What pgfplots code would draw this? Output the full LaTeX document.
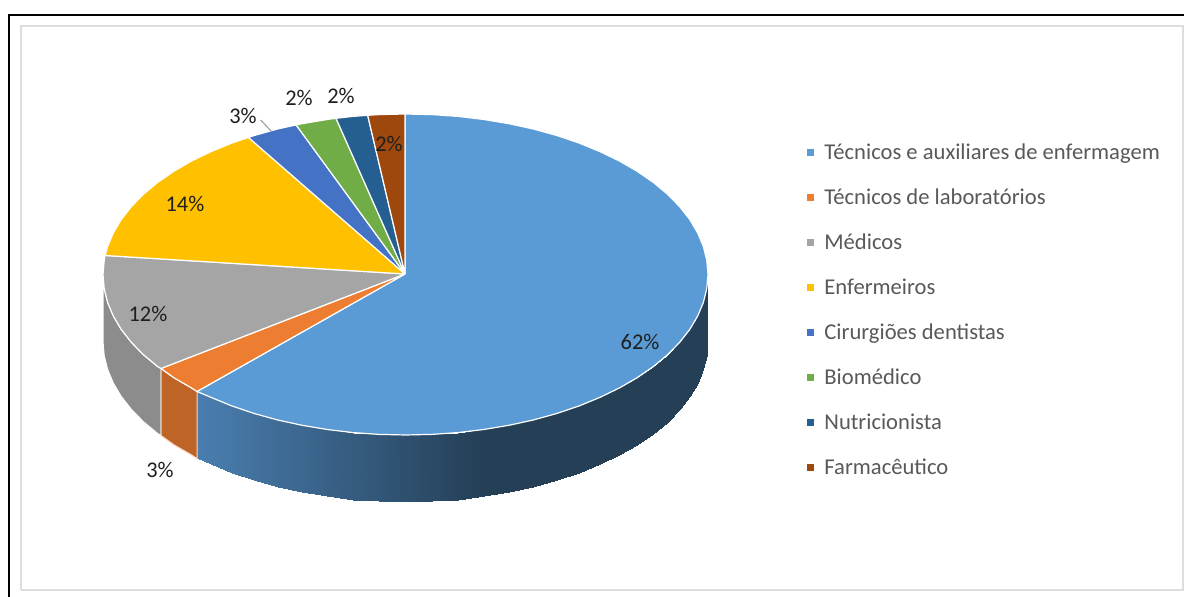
\documentclass[border=0pt]{standalone}
\usepackage{pgfplots}
\usepackage{fontspec}
\setmainfont{Carlito}
\pgfplotsset{compat=1.18}
\definecolor{cBlue}{HTML}{5B9BD5}
\definecolor{cOrange}{HTML}{ED7D31}
\definecolor{cGray}{HTML}{A5A5A5}
\definecolor{cYellow}{HTML}{FFC000}
\definecolor{cRoyal}{HTML}{4472C4}
\definecolor{cGreen}{HTML}{70AD47}
\definecolor{cNavy}{HTML}{255E91}
\definecolor{cBrown}{HTML}{9E480E}
\definecolor{cLegend}{HTML}{595959}
\definecolor{cFrame}{HTML}{DDDDDD}
\tikzset{
    lab/.style={font=\fontsize{11.2}{12}\selectfont, text=black!88, inner sep=0pt, anchor=base},
    leg/.style={font=\fontsize{11.3}{12}\selectfont, text=cLegend, inner sep=0pt, anchor=base west},
    slice/.style={draw=white, line width=0.6pt, line join=round},
}

\begin{document}
\begin{tikzpicture}
\begin{axis}[
    x=0.5pt, y=0.5pt,
    scale only axis,
    hide axis,
    xmin=0, xmax=1184,
    ymin=0, ymax=597,
    y dir=reverse,
    clip=true,
    colormap={sidefade}{rgb255(0cm)=(74,126,176); rgb255(10cm)=(36,63,86)},
]
% outer frames
\addplot[white, fill=white, forget plot] coordinates {(0,0) (1184,0) (1184,597) (0,597) (0,0)};
\addplot[black, line width=1pt, forget plot] coordinates {(9,597) (9,15) (1184,15)};
\addplot[cFrame, line width=1pt, forget plot] coordinates {(21,590) (21,26) (1183,26) (1183,590) (21,590)};

% side wall, blue part (top rim then bottom rim)
\addplot[surf, shader=interp, mesh/rows=2, point meta=x, point meta min=197, point meta max=484, forget plot] coordinates {
(197,391.5) (211.1,397.4) (232,406) (254.2,413.5) (277.7,420) (302,425.3) (327.2,429.5) (353,432.6) (379.1,434.4) (405.5,435) (431.9,434.4) (458,432.6) (483.8,429.5) (509,425.3) (533.3,420) (556.8,413.5) (579,406) (599.9,397.4) (619.4,388) (637.2,377.7) (653.3,366.6) (667.5,354.8) (679.7,342.3) (689.8,329.4) (697.7,316) (703.4,302.4) (706.8,288.5) (708,274.5)

(197,458.5) (211.1,464.4) (232,473) (254.2,480.5) (277.7,487) (302,492.3) (327.2,496.5) (353,499.6) (379.1,501.4) (405.5,502) (431.9,501.4) (458,499.6) (483.8,496.5) (509,492.3) (533.3,487) (556.8,480.5) (579,473) (599.9,464.4) (619.4,455) (637.2,444.7) (653.3,433.6) (667.5,421.8) (679.7,409.3) (689.8,396.4) (697.7,383) (703.4,369.4) (706.8,355.5) (708,341.5)
};
% side wall, gray and orange
\addplot[draw=white, line width=0.5pt, fill=black!45, forget plot] coordinates {
(103,274.5) (104.2,288.5) (107.6,302.4) (113.3,316) (121.2,329.4) (131.3,342.3) (143.5,354.8) (157.7,366.6) (161,368.5)
(161,435.5) (157.7,433.6) (143.5,421.8) (131.3,409.3) (121.2,396.4) (113.3,383) (107.6,369.4) (104.2,355.5) (103,341.5) (103,274.5)};
\addplot[draw=white!70!cOrange, line width=0.5pt, fill=cOrange!80!black, forget plot] coordinates {
(161,368.5) (173.8,377.7) (191.6,388) (197,391.5) (197,458.5) (191.6,455) (173.8,444.7) (161,435.5) (161,368.5)};

% top face
\addplot[slice, fill=cBlue, forget plot] coordinates {
(405,274) (405,114) (431.9,114.6) (458,116.4) (483.8,119.5) (509,123.7) (533.3,129) (556.8,135.5) (579,143) (599.9,151.6) (619.4,161) (637.2,171.3) (653.3,182.4) (667.5,194.2) (679.7,206.7) (689.8,219.6) (697.7,233) (703.4,246.6) (706.8,260.5) (708,274.5) (706.8,288.5) (703.4,302.4) (697.7,316) (689.8,329.4) (679.7,342.3) (667.5,354.8) (653.3,366.6) (637.2,377.7) (619.4,388) (599.9,397.4) (579,406) (556.8,413.5) (533.3,420) (509,425.3) (483.8,429.5) (458,432.6) (431.9,434.4) (405.5,435) (379.1,434.4) (353,432.6) (327.2,429.5) (302,425.3) (277.7,420) (254.2,413.5) (232,406) (211.1,397.4) (197,391.5) (405,274)};
\addplot[slice, fill=cOrange, forget plot] coordinates {
(405,274) (197,391.5) (191.6,388) (173.8,377.7) (161,368.5) (405,274)};
\addplot[slice, fill=cGray, forget plot] coordinates {
(405,274) (161,368.5) (157.7,366.6) (143.5,354.8) (131.3,342.3) (121.2,329.4) (113.3,316) (107.6,302.4) (104.2,288.5) (103,274.5) (104.2,260.5) (105.1,255.5) (405,274)};
\addplot[slice, fill=cYellow, forget plot] coordinates {
(405,274) (105.1,255.5) (107.6,246.6) (113.3,233) (121.2,219.6) (131.3,206.7) (143.5,194.2) (157.7,182.4) (173.8,171.3) (191.6,161) (211.1,151.6) (232,143) (248.4,137.4) (405,274)};
\addplot[slice, fill=cRoyal, forget plot] coordinates {
(405,274) (248.4,137.4) (254.2,135.5) (277.7,129) (296.1,124.9) (405,274)};
\addplot[slice, fill=cGreen, forget plot] coordinates {
(405,274) (296.1,124.9) (302,123.7) (327.2,119.5) (336,118.3) (405,274)};
\addplot[slice, fill=cNavy, forget plot] coordinates {
(405,274) (336,118.3) (353,116.4) (367.7,115.3) (405,274)};
\addplot[slice, fill=cBrown, forget plot] coordinates {
(405,274) (367.7,115.3) (379.1,114.6) (405,114) (405,274)};

% leader line of the 3% label
\addplot[black!40, line width=0.5pt, forget plot] coordinates {(260.7,120) (271.7,131.7)};

% legend keys
\addplot[only marks, mark=square*, mark size=1.5pt, cBlue, forget plot] coordinates {(810,152)};
\addplot[only marks, mark=square*, mark size=1.5pt, cOrange, forget plot] coordinates {(810,197)};
\addplot[only marks, mark=square*, mark size=1.5pt, cGray, forget plot] coordinates {(810,242)};
\addplot[only marks, mark=square*, mark size=1.5pt, cYellow, forget plot] coordinates {(810,287)};
\addplot[only marks, mark=square*, mark size=1.5pt, cRoyal, forget plot] coordinates {(810,332)};
\addplot[only marks, mark=square*, mark size=1.5pt, cGreen, forget plot] coordinates {(810,377)};
\addplot[only marks, mark=square*, mark size=1.5pt, cNavy, forget plot] coordinates {(810,422)};
\addplot[only marks, mark=square*, mark size=1.5pt, cBrown, forget plot] coordinates {(810,467)};

\node[leg] at (axis cs:824,160) {Técnicos e auxiliares de enfermagem};
\node[leg] at (axis cs:824,205) {Técnicos de laboratórios};
\node[leg] at (axis cs:824,250) {Médicos};
\node[leg] at (axis cs:824,295) {Enfermeiros};
\node[leg] at (axis cs:824,340) {Cirurgiões dentistas};
\node[leg] at (axis cs:824,385) {Biomédico};
\node[leg] at (axis cs:824,430) {Nutricionista};
\node[leg] at (axis cs:824,475) {Farmacêutico};

% data labels
\node[lab] at (axis cs:640,350) {62\%};
\node[lab] at (axis cs:160,478) {3\%};
\node[lab] at (axis cs:148,322) {12\%};
\node[lab] at (axis cs:185,211.5) {14\%};
\node[lab] at (axis cs:243,124) {3\%};
\node[lab] at (axis cs:299,105.5) {2\%};
\node[lab] at (axis cs:341,104) {2\%};
\node[lab] at (axis cs:389,152) {2\%};
\end{axis}
\end{tikzpicture}
\end{document}
